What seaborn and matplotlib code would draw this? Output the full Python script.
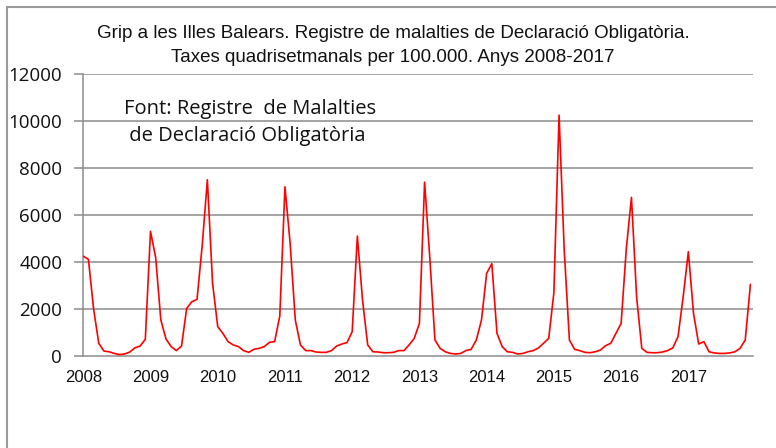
import pandas as pd
import seaborn as sns
import matplotlib.pyplot as plt
from matplotlib.lines import Line2D

# Taxes quadrisetmanals (13 periodes per any), llegides del grafic
years = ['2008', '2009', '2010', '2011', '2012', '2013', '2014', '2015', '2016', '2017']
rate_2008 = [4250, 4110, 2000, 540, 210, 180, 110, 60, 85, 170, 350, 425, 710]
rate_2009 = [5300, 4200, 1530, 720, 400, 230, 425, 2030, 2310, 2410, 4700, 7500, 3100]
rate_2010 = [1250, 960, 610, 470, 400, 230, 155, 285, 325, 400, 580, 610, 1700]
rate_2011 = [7200, 4800, 1530, 470, 230, 230, 170, 155, 155, 230, 425, 510, 570]
rate_2012 = [1040, 5100, 2380, 470, 180, 170, 140, 140, 155, 230, 230, 470, 750]
rate_2013 = [1390, 7400, 4200, 680, 325, 180, 110, 85, 110, 230, 285, 680, 1530]
rate_2014 = [3520, 3930, 960, 400, 180, 155, 85, 110, 180, 230, 340, 540, 750]
rate_2015 = [2700, 10250, 4500, 680, 285, 230, 155, 140, 180, 255, 440, 540, 960]
rate_2016 = [1390, 4550, 6750, 2500, 325, 155, 140, 140, 170, 230, 350, 820, 2520]
rate_2017 = [4440, 1810, 510, 610, 180, 130, 110, 110, 130, 180, 325, 680, 3050]

rates = (rate_2008 + rate_2009 + rate_2010 + rate_2011 + rate_2012 +
         rate_2013 + rate_2014 + rate_2015 + rate_2016 + rate_2017)
df = pd.DataFrame({'periode': range(len(rates)), 'taxa': rates})

sns.set_style('white')
plt.rcParams['font.family'] = ['Liberation Sans', 'DejaVu Sans']

fig = plt.figure(figsize=(7.76, 4.48), dpi=100)
ax = fig.add_axes([83 / 776, 1 - 356 / 448, 670 / 776, 282 / 448])

grid_col = '#8c8c8c'
for v in range(2000, 12001, 2000):
    ax.axhline(v, color=grid_col, lw=1.1, zorder=1)

sns.lineplot(data=df, x='periode', y='taxa', color='#ff0000', lw=1.2, ax=ax, zorder=3)

ax.set_xlim(-0.05, 129.5)
ax.set_ylim(0, 12000)
ax.set_xlabel('')
ax.set_ylabel('')

ax.set_xticks([13 * i for i in range(len(years))])
ax.set_xticklabels(years, fontsize=12, color='#111111')
ax.tick_params(axis='x', length=0, pad=10)

ax.set_yticks(range(0, 12001, 2000))
ax.set_yticklabels([str(v) for v in range(0, 12001, 2000)],
                   fontsize=13.5, color='#111111', family=['Open Sans', 'DejaVu Sans'])
ax.tick_params(axis='y', length=6.5, width=1.1, color=grid_col, pad=8.5, left=True)

for side in ['top', 'right']:
    ax.spines[side].set_visible(False)
ax.spines['left'].set_color(grid_col)
ax.spines['left'].set_linewidth(1.1)
ax.spines['bottom'].set_color(grid_col)
ax.spines['bottom'].set_linewidth(1.1)

ax.text(0.061, 0.828, 'Font: Registre  de Malalties\n de Declaració Obligatòria',
        transform=ax.transAxes, fontsize=14.5, linespacing=1.45,
        family=['Open Sans', 'DejaVu Sans'], color='#111111', va='center', ha='left')

fig.text(393 / 776, 1 - 33 / 448, 'Grip a les Illes Balears. Registre de malalties de Declaració Obligatòria.',
         ha='center', va='center', fontsize=13.5, color='#111111')
fig.text(393 / 776, 1 - 57 / 448, 'Taxes quadrisetmanals per 100.000. Anys 2008-2017',
         ha='center', va='center', fontsize=13.5, color='#111111')

# marc del grafic (nomes es veuen la vora superior i l'esquerra)
fig.add_artist(Line2D([7 / 776, 7 / 776], [0, 1 - 7 / 448], color='#9a9a9a', lw=1.5))
fig.add_artist(Line2D([7 / 776, 1], [1 - 7 / 448, 1 - 7 / 448], color='#9a9a9a', lw=1.5))

fig.savefig('out.png', dpi=100)
